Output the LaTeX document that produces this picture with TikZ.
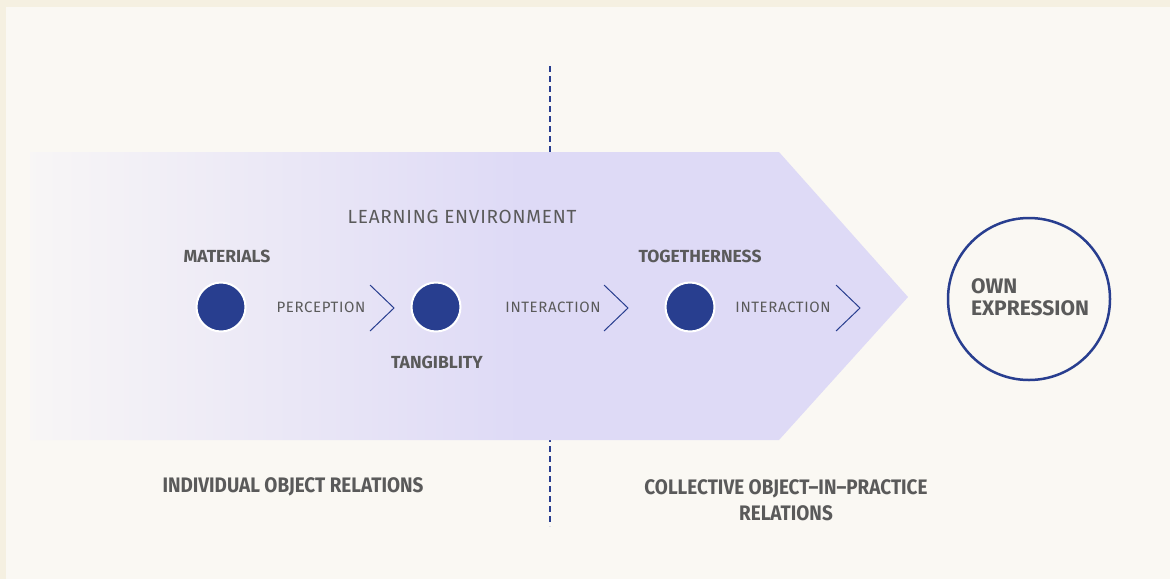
\documentclass[tikz,border=0pt]{standalone}
\usepackage{fontspec}
\usepackage{xcolor}
\setmainfont{Fira Sans}
\newfontfamily\condfont{Fira Sans}[FakeStretch=0.9]
\newfontfamily\trackfont{Fira Sans}[LetterSpace=4]

\definecolor{outerbg}{HTML}{F5F0E1}
\definecolor{panelbg}{HTML}{FAF8F3}
\definecolor{lav}{HTML}{DEDAF6}
\colorlet{lavlight}{panelbg!85!lav!80!white}
\definecolor{dotblue}{HTML}{283E8F}
\definecolor{txtgray}{HTML}{5A5A5A}

% fades in over the left part of the arrow, solid from the middle on
\pgfdeclarehorizontalshading{arrowshade}{100bp}{color(0bp)=(lavlight); color(25bp)=(lavlight); color(53bp)=(lav); color(100bp)=(lav)}

\begin{document}
\begin{tikzpicture}[
    x=1pt,y=-1pt,
    dot/.style={circle,fill=dotblue,draw=white,line width=2pt,minimum size=49pt,inner sep=0pt},
    lbl/.style={text=txtgray,inner sep=0pt,font=\trackfont\fontsize{15}{17}\selectfont},
    blbl/.style={text=txtgray,inner sep=0pt,font=\fontsize{17.5}{19}\selectfont\bfseries},
    rellbl/.style={text=txtgray,inner sep=0pt,align=center,font=\condfont\fontsize{21}{26}\selectfont\bfseries},
    chev/.style={draw=dotblue,line width=1pt},
    sepline/.style={draw=dotblue,line width=2pt,dash pattern=on 6pt off 4pt}
]
	\useasboundingbox (0,0) rectangle (1170,579);
	\fill[outerbg] (0,0) rectangle (1170,579);
	\fill[panelbg] (6,7) rectangle (1170,579);

	% dashed separator, arrow covers the middle
	\draw[sepline] (550,66) -- (550,526);

	% big arrow
	\shade[shading=arrowshade] (30,152) -- (779,152) -- (908,297) -- (779,440) -- (30,440) -- cycle;

	\node[lbl,font=\trackfont\fontsize{19}{21}\selectfont] (env) at (462,217) {LEARNING ENVIRONMENT};

	% stations
	\node[dot] (mat) at (221,307) {};
	\node[dot] (tan) at (436,307) {};
	\node[dot] (tog) at (690,307) {};
	\node[circle,draw=dotblue,line width=2.5pt,minimum size=162pt,inner sep=0pt] (own) at (1029,299) {};

	\node[blbl] (matlbl) at (227,256) {MATERIALS};
	\node[blbl] (tanlbl) at (437,362) {TANGIBLITY};
	\node[blbl] (toglbl) at (700,256) {TOGETHERNESS};
	\node[text=txtgray,inner sep=0pt,align=left,font=\fontsize{21}{22}\selectfont\bfseries] (ownlbl) at (1030,297) {OWN\\EXPRESSION};

	\node[lbl] (per) at (321,307) {PERCEPTION};
	\node[lbl] (int1) at (553,307) {INTERACTION};
	\node[lbl] (int2) at (783,307) {INTERACTION};

	% chevrons
	\coordinate (ch1) at (394,308);
	\coordinate (ch2) at (628,308);
	\coordinate (ch3) at (860,308);
	\draw[chev] ([shift={(-24,-23)}]ch1) -- (ch1) -- ([shift={(-24,23)}]ch1);
	\draw[chev] ([shift={(-24,-23)}]ch2) -- (ch2) -- ([shift={(-24,23)}]ch2);
	\draw[chev] ([shift={(-24,-23)}]ch3) -- (ch3) -- ([shift={(-24,23)}]ch3);

	% bottom captions
	\node[rellbl] (indiv) at (293,487) {INDIVIDUAL OBJECT RELATIONS};
	\node[rellbl] (coll) at (786,500) {COLLECTIVE OBJECT–IN–PRACTICE\\RELATIONS};
\end{tikzpicture}
\end{document}
